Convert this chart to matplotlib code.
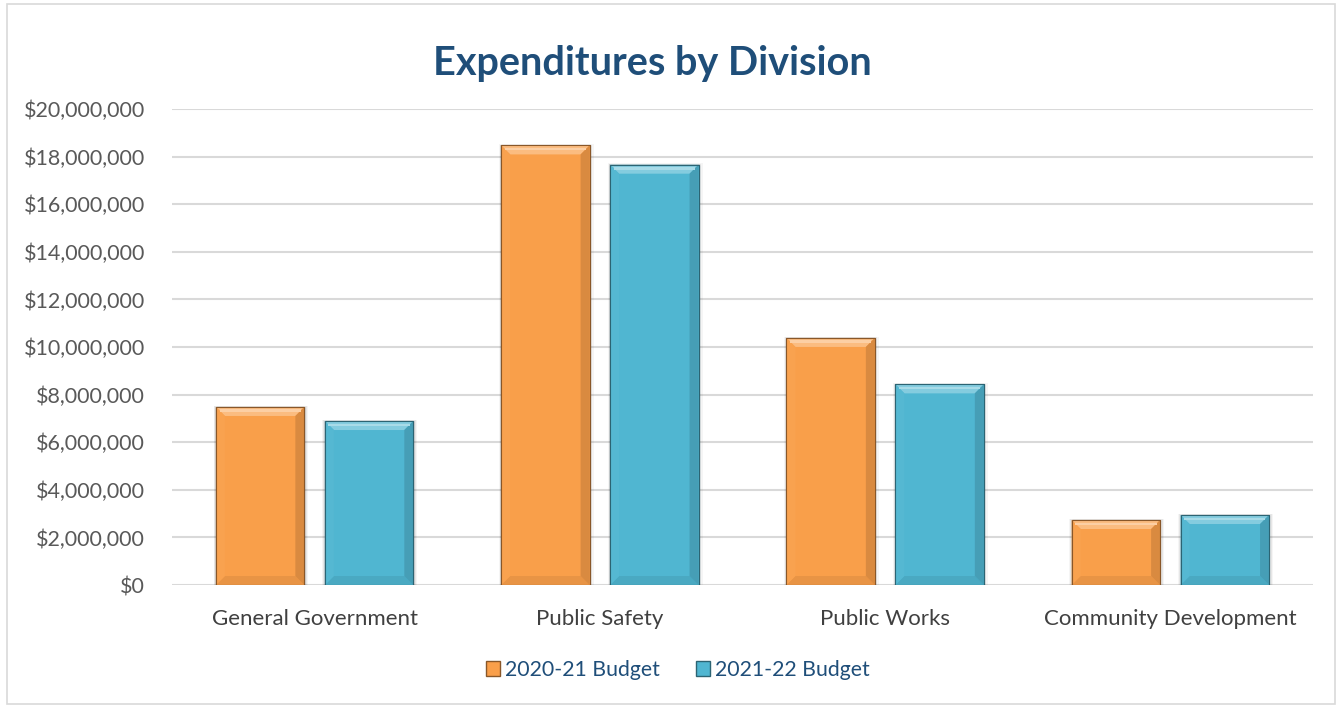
import matplotlib
matplotlib.use("Agg")
import matplotlib.pyplot as plt
from matplotlib.patches import Polygon, Rectangle
import matplotlib.colors as mcolors
import numpy as np

categories = ["General Government", "Public Safety", "Public Works", "Community Development"]
budget_2020_21 = [7_480_000, 18_470_000, 10_380_000, 2_730_000]
budget_2021_22 = [6_890_000, 17_660_000, 8_430_000, 2_940_000]
series_labels = ["2020-21 Budget", "2021-22 Budget"]
y_ticks = list(range(0, 20_000_001, 2_000_000))

ORANGE = "#F99F4A"
TEAL = "#50B6D1"
TITLE_BLUE = "#1F4E79"
GRID = "#D9D9D9"

plt.rcParams["font.family"] = ["Lato", "DejaVu Sans"]

W, H = 1340, 707
fig = plt.figure(figsize=(W / 100, H / 100), dpi=100)
fig.patch.set_facecolor("white")

# light frame around the chart area
fig.add_artist(Rectangle((0.0055, 0.004), 0.991, 0.99, transform=fig.transFigure,
                         fill=False, edgecolor="#D9D9D9", linewidth=1.2))

ax = fig.add_axes([172 / W, 1 - 585 / H, (1313 - 172) / W, (585 - 109) / H])
ax.set_xlim(-0.5, len(categories) - 0.5)
ax.set_ylim(0, 20_000_000)

x = np.arange(len(categories))
bar_w = 0.31
offset = 0.191


def shade(color, amount):
    """amount > 0 lightens toward white, < 0 darkens toward black."""
    c = np.array(mcolors.to_rgb(color))
    if amount >= 0:
        return tuple(c + (1 - c) * amount)
    return tuple(c * (1 + amount))


pos = ax.get_position()
px_per_x = pos.width * W / (ax.get_xlim()[1] - ax.get_xlim()[0])
px_per_y = pos.height * H / (ax.get_ylim()[1] - ax.get_ylim()[0])
bev_px = 9
bx = bev_px / px_per_x
by = bev_px / px_per_y


def bevel_bar(xc, h, color):
    x0, x1 = xc - bar_w / 2, xc + bar_w / 2
    # soft shadow
    for k, a in ((4, 0.04), (2.5, 0.06), (1.2, 0.08)):
        sx, sy = k / px_per_x, k / px_per_y
        ax.add_patch(Rectangle((x0 - sx * 0.6, -sy * 0.3), bar_w + sx * 1.6, h + sy * 0.6,
                               facecolor="black", alpha=a, edgecolor="none", zorder=2))
    ax.bar(xc, h, width=bar_w, color=color, edgecolor=shade(color, -0.45),
           linewidth=0.8, zorder=3)
    ix0, ix1 = x0 + bx, x1 - bx
    iy0, iy1 = by, h - by
    faces = [
        ([(x0, h), (x1, h), (ix1, iy1), (ix0, iy1)], shade(color, 0.3)),    # top
        ([(x0, 0), (ix0, iy0), (ix1, iy0), (x1, 0)], shade(color, -0.07)),  # bottom
        ([(x0, 0), (x0, h), (ix0, iy1), (ix0, iy0)], shade(color, 0.03)),   # left
        ([(x1, 0), (x1, h), (ix1, iy1), (ix1, iy0)], shade(color, -0.13)),  # right
    ]
    for pts, fc in faces:
        ax.add_patch(Polygon(pts, closed=True, facecolor=fc, edgecolor="none", zorder=4))
    # bright highlight just under the top edge
    hl = 2.5 / px_per_y
    ax.add_patch(Rectangle((x0 + bx * 0.4, h - hl * 2.0), bar_w - bx * 0.8, hl,
                           facecolor=shade(color, 0.5), edgecolor="none", zorder=5))
    ax.add_patch(Rectangle((x0, 0), bar_w, h, fill=False,
                           edgecolor=shade(color, -0.45), linewidth=0.8, zorder=6))


for xi, v in zip(x, budget_2020_21):
    bevel_bar(xi - offset, v, ORANGE)
for xi, v in zip(x, budget_2021_22):
    bevel_bar(xi + offset, v, TEAL)

ax.set_yticks(y_ticks)
ax.set_yticklabels([f"${t:,.0f}" for t in y_ticks])
ax.set_xticks(x)
ax.set_xticklabels(categories)
ax.yaxis.grid(True, color=GRID, linewidth=1.5, zorder=0)
ax.set_axisbelow(True)
for s in ax.spines.values():
    s.set_visible(False)
ax.tick_params(axis="both", length=0)
ax.tick_params(axis="y", labelsize=15.5, labelcolor="#595959", pad=19.5)
ax.tick_params(axis="x", labelsize=16, labelcolor="#404040", pad=17.5)

fig.text(652 / W, 1 - 63 / H, "Expenditures by Division", ha="center", va="center",
         fontsize=28.5, fontweight="bold", color=TITLE_BLUE)

handles = [Rectangle((0, 0), 1, 1, facecolor=ORANGE, edgecolor=shade(ORANGE, -0.45)),
           Rectangle((0, 0), 1, 1, facecolor=TEAL, edgecolor=shade(TEAL, -0.45))]
leg = fig.legend(handles, series_labels, loc="center", bbox_to_anchor=(678 / W, 1 - 670 / H),
                 ncol=2, frameon=False, fontsize=15.3, handlelength=0.65, handleheight=0.65,
                 handletextpad=0.25, columnspacing=1.7)
for t in leg.get_texts():
    t.set_color(TITLE_BLUE)

fig.savefig("out.png", dpi=100)
